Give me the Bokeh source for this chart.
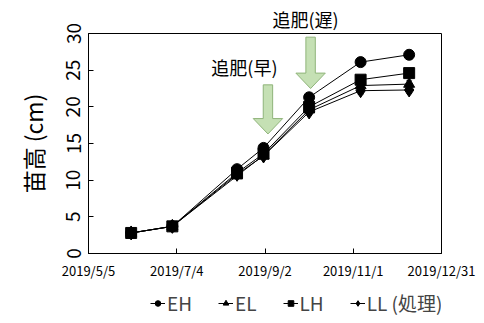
from datetime import datetime

from bokeh.embed import file_html
from bokeh.layouts import column
from bokeh.models import (ColumnDataSource, CustomJSTickFormatter, FixedTicker,
                          Label, Legend, LegendItem, Range1d, TeeHead, Title,
                          Whisker)
from bokeh.plotting import figure
from bokeh.resources import INLINE

FONT = "Noto Sans CJK JP"

# Survey dates and seedling height (cm) per treatment
dates = ["2019-06-03", "2019-07-01", "2019-08-14", "2019-09-01",
         "2019-10-02", "2019-11-06", "2019-12-09"]
eh = [2.8, 3.7, 11.5, 14.4, 21.3, 26.1, 27.1]
el = [2.8, 3.7, 10.6, 13.4, 19.6, 22.9, 23.1]
lh = [2.8, 3.7, 11.0, 13.6, 20.0, 23.7, 24.6]
ll = [2.8, 3.7, 10.8, 13.3, 19.3, 22.2, 22.3]
eh_err = [0.1, 0.2, 0.3, 0.3, 0.4, 0.6, 0.6]
el_err = [0.1, 0.2, 0.3, 0.3, 0.4, 0.5, 0.5]
lh_err = [0.1, 0.2, 0.3, 0.3, 0.4, 0.5, 0.5]
ll_err = [0.1, 0.2, 0.3, 0.3, 0.4, 0.5, 0.5]

series_names = ["EH", "EL", "LH", "LL (処理)"]
markers = ["circle", "triangle", "square", "diamond"]

x_ticks = ["2019-05-05", "2019-07-04", "2019-09-02", "2019-11-01", "2019-12-31"]
y_ticks = [0, 5, 10, 15, 20, 25, 30]

# Top-dressing events: label, arrow date, tip / head base / shaft top heights
fert_labels = ["追肥(早)", "追肥(遅)"]
fert_dates = ["2019-09-04", "2019-10-03"]
fert_tip = [16.3, 22.5]
fert_head = [18.4, 24.6]
fert_top = [23.0, 29.5]
fert_label_y = 25.4


def d(s):
    return datetime.strptime(s, "%Y-%m-%d")


def to_ms(s):
    return (d(s) - datetime(1970, 1, 1)).total_seconds() * 1000


xs = [d(s) for s in dates]

p = figure(width=484, height=288, output_backend="svg",
           toolbar_location=None, x_axis_type="datetime",
           x_range=Range1d(d(x_ticks[0]), d(x_ticks[-1])),
           y_range=Range1d(0, 30),
           min_border_left=88, min_border_right=43, min_border_top=33,
           min_border_bottom=35)
p.background_fill_color = "white"
p.border_fill_color = "white"
p.outline_line_color = "black"
p.outline_line_width = 1
p.grid.visible = False

# axes
p.xaxis.ticker = FixedTicker(ticks=[to_ms(s) for s in x_ticks])
p.xaxis.formatter = CustomJSTickFormatter(code="""
const t = new Date(tick);
return t.getUTCFullYear() + '/' + (t.getUTCMonth() + 1) + '/' + t.getUTCDate();
""")
p.yaxis.ticker = FixedTicker(ticks=y_ticks)
for ax in (p.xaxis[0], p.yaxis[0]):
    ax.major_tick_in = 5
    ax.major_tick_out = 0
    ax.minor_tick_line_color = None
    ax.axis_line_color = "black"
    ax.major_tick_line_color = "black"
    ax.major_label_text_color = "black"
    ax.major_label_text_font = FONT
p.xaxis.major_label_text_font_size = "13px"
p.xaxis.major_label_standoff = 7
p.yaxis.major_label_text_font_size = "19px"
p.yaxis.major_label_orientation = "vertical"
p.yaxis.major_label_standoff = 8
p.yaxis.axis_label = "苗高 (cm)"
p.yaxis.axis_label_text_font = FONT
p.yaxis.axis_label_text_font_size = "23px"
p.yaxis.axis_label_text_font_style = "normal"
p.yaxis.axis_label_text_color = "black"
p.yaxis.axis_label_standoff = 14

# top-dressing arrows
day = 86400000
shaft_half = 3.2 * day
head_half = 10.0 * day
for fd, tip, head, top in zip(fert_dates, fert_tip, fert_head, fert_top):
    cx = to_ms(fd)
    px = [cx - shaft_half, cx + shaft_half, cx + shaft_half, cx + head_half,
          cx, cx - head_half, cx - shaft_half]
    py = [top, top, head, head, tip, head, head]
    p.patch(px, py, fill_color="#c5e0b4", line_color="#8fb47a", line_width=1)

# early label sits inside the frame, late label above it
p.add_layout(Label(x=to_ms(fert_dates[0]) - 16 * day, y=fert_label_y,
                   text=fert_labels[0], text_align="center",
                   text_baseline="middle", text_font=FONT,
                   text_font_size="18px", text_color="black"))
p.add_layout(Title(text=fert_labels[1], align="left", offset=184, standoff=3,
                   text_font=FONT, text_font_size="18px",
                   text_font_style="normal", text_color="black"), "above")

# legend strip below the chart (key glyphs sit outside its visible range)
leg = figure(width=484, height=35, output_backend="svg", toolbar_location=None,
             x_axis_location=None, y_axis_location=None,
             x_range=Range1d(0, 1), y_range=Range1d(0, 1),
             min_border=0, outline_line_color=None)
leg.grid.visible = False
leg.background_fill_color = "white"
leg.border_fill_color = "white"

# series
items = []
for name, mk, ys, err in zip(series_names, markers, [eh, el, lh, ll],
                             [eh_err, el_err, lh_err, ll_err]):
    src = ColumnDataSource(dict(x=xs, y=ys,
                                lo=[a - b for a, b in zip(ys, err)],
                                hi=[a + b for a, b in zip(ys, err)]))
    p.add_layout(Whisker(source=src, base="x", lower="lo", upper="hi",
                         line_color="#808080", line_width=1,
                         upper_head=TeeHead(size=6, line_color="#808080"),
                         lower_head=TeeHead(size=6, line_color="#808080")))
    p.line("x", "y", source=src, line_color="black", line_width=1)
    size = 11 if mk != "diamond" else 14
    p.scatter("x", "y", source=src, marker=mk, size=size,
              fill_color="black", line_color="black")

    key_src = ColumnDataSource(dict(x=[-10, -9], y=[-10, -10]))
    kl = leg.line("x", "y", source=key_src, line_color="black", line_width=1)
    ks = leg.scatter("x", "y", source=key_src, marker=mk,
                     size=9 if mk != "diamond" else 11,
                     fill_color="black", line_color="black")
    items.append(LegendItem(label=name, renderers=[kl, ks]))

legend = Legend(items=items, orientation="horizontal", location=(62, 7),
                label_text_font=FONT, label_text_font_size="19px",
                label_height=20, glyph_width=15, glyph_height=14,
                label_standoff=2, spacing=26, padding=0, margin=0,
                border_line_color=None, background_fill_alpha=0)
leg.add_layout(legend)

layout = column(p, leg, spacing=0)
open("out.html", "w").write(file_html(layout, INLINE))
